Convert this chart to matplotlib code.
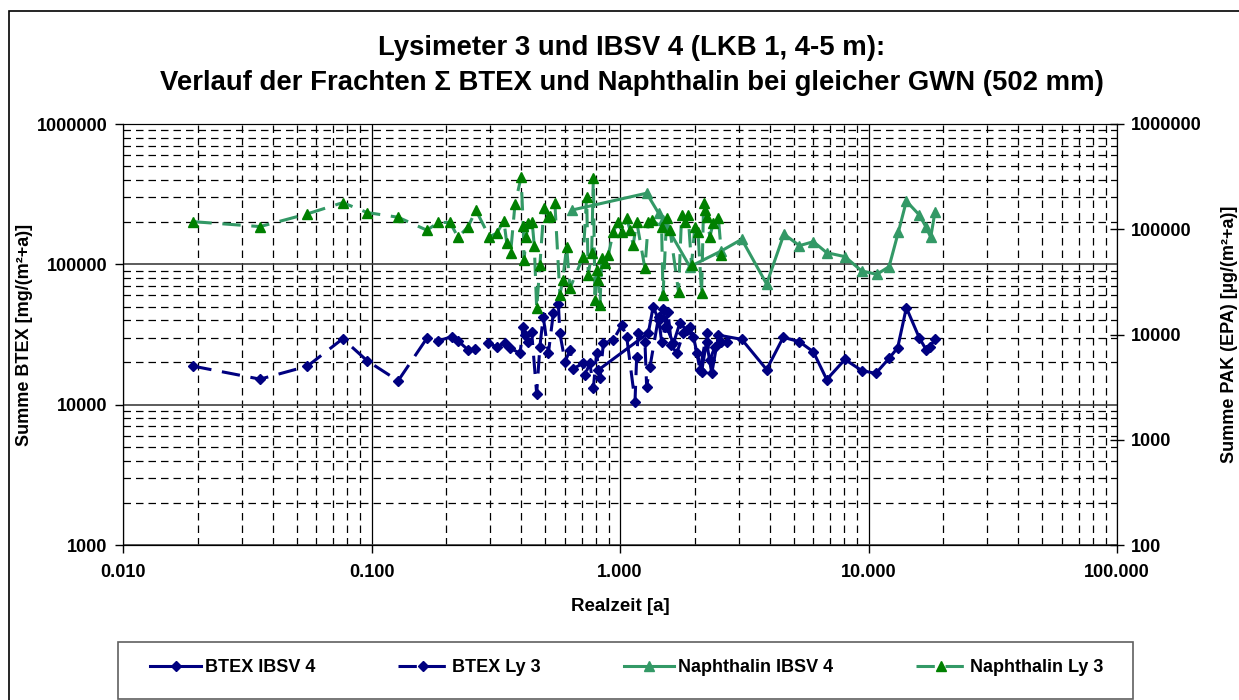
import numpy as np
import matplotlib.pyplot as plt
from matplotlib.patches import Rectangle
from matplotlib.ticker import LogLocator, FixedLocator, FixedFormatter, NullFormatter

plt.rcParams['font.family'] = ['Liberation Sans', 'DejaVu Sans']
plt.rcParams['font.weight'] = 'bold'

# BTEX Ly 3 (mg/(m²·a)), Realzeit [a]
btex_ly3_t = [0.0192, 0.0356, 0.0552, 0.0766, 0.0962, 0.128, 0.167, 0.186, 0.210, 0.223,
              0.245, 0.261, 0.295, 0.319, 0.344, 0.360, 0.396, 0.408, 0.415, 0.428,
              0.441, 0.462, 0.476, 0.491, 0.515, 0.539, 0.565, 0.573, 0.601, 0.629,
              0.649, 0.711, 0.722, 0.757, 0.781, 0.805, 0.831, 0.857, 0.94, 1.016,
              1.064, 1.149, 1.167, 1.185, 1.26, 1.28, 1.32, 1.43, 1.47, 1.52,
              1.56, 1.61, 1.69, 1.80, 1.91, 2.04, 2.10, 2.23, 2.30, 2.41, 2.56, 2.69]
btex_ly3 = [18800, 15200, 18800, 29500, 20500, 14800, 29700, 28500, 30500, 28500,
            24500, 24800, 27300, 25900, 27300, 25400, 23200, 35900, 31300, 28100,
            33100, 12000, 25900, 42300, 23200, 44700, 52000, 32200, 20200, 24500,
            18100, 19700, 16300, 19700, 13100, 23200, 15400, 27300, 28900, 36900,
            30500, 10500, 21900, 32200, 28100, 13400, 18600, 42300, 28100, 35900,
            46000, 26600, 23200, 32200, 35900, 23200, 17600, 32200, 20800, 25900, 28100, 28100]

# BTEX IBSV 4
btex_ibsv_t = [0.816, 1.30, 1.36, 1.43, 1.49, 1.54, 1.64, 1.74, 1.86, 1.97,
               2.13, 2.23, 2.34, 2.49, 3.09, 3.89, 4.54, 5.27, 6.0, 6.79,
               8.04, 9.39, 10.7, 12.1, 13.1, 14.2, 16.0, 17.1, 17.7, 18.5]
btex_ibsv = [17600, 32400, 49900, 40100, 48000, 35900, 27300, 38000, 34000, 30500,
             17200, 28100, 16700, 31300, 29200, 17800, 30200, 28100, 23800, 15100,
             21000, 17500, 16700, 21400, 25400, 49100, 30000, 24500, 25900, 29300]

# Naphthalin Ly 3 (µg/(m²·a))
naph_ly3_t = [0.0192, 0.0356, 0.0552, 0.0766, 0.0962, 0.128, 0.167, 0.186, 0.207, 0.223,
              0.245, 0.263, 0.298, 0.319, 0.341, 0.350, 0.363, 0.378, 0.400, 0.408,
              0.411, 0.419, 0.428, 0.443, 0.452, 0.462, 0.476, 0.494, 0.515, 0.523,
              0.547, 0.573, 0.588, 0.610, 0.629, 0.711, 0.734, 0.745, 0.769, 0.781,
              0.793, 0.805, 0.818, 0.831, 0.844, 0.870, 0.897, 0.94, 0.984, 1.016,
              1.064, 1.097, 1.13, 1.167, 1.26, 1.30, 1.34, 1.47, 1.49, 1.54,
              1.59, 1.72, 1.77, 1.83, 1.88, 1.94, 2.00, 2.06, 2.13, 2.17,
              2.20, 2.23, 2.30, 2.37, 2.49, 2.56]
naph_ly3 = [118000, 106000, 140000, 179000, 144000, 130000, 98000, 116000, 116000, 83900,
            106000, 152000, 85000, 91500, 120000, 74500, 59900, 174000, 312000, 107000,
            51000, 85000, 114000, 118000, 69300, 17700, 45700, 158000, 132000, 135000,
            176000, 23700, 33000, 68300, 27500, 54900, 204000, 36800, 59100, 305000,
            21300, 41000, 33000, 19100, 52900, 47500, 56900, 94800, 118000, 94800,
            127000, 98000, 70800, 118000, 42500, 118000, 122000, 106000, 23700, 127000,
            98000, 25500, 137000, 118000, 137000, 45700, 106000, 94800, 24600, 176000,
            152000, 132000, 85000, 114000, 127000, 56900]

# Naphthalin IBSV 4
naph_ibsv_t = [0.639, 1.28, 1.43, 1.49, 1.91, 2.55, 3.09, 3.89, 4.57, 5.27,
               6.0, 6.79, 8.04, 9.39, 10.8, 12.1, 13.2, 14.2, 16.0, 17.0, 17.8, 18.5]
naph_ibsv = [152000, 220000, 142000, 122000, 44100, 62000, 80300, 30200, 90100, 69800,
             76200, 59900, 54900, 40100, 37300, 44100, 94800, 185000, 137000, 106000, 83900, 145000]

x_ticks = [0.01, 0.1, 1, 10, 100]
x_labels = ['0.010', '0.100', '1.000', '10.000', '100.000']
yl_ticks = [1000, 10000, 100000, 1000000]
yr_ticks = [100, 1000, 10000, 100000, 1000000]

NAVY = '#000080'
SEA = '#339966'
GREEN = '#008000'

fig = plt.figure(figsize=(12.39, 7.0), dpi=100)
W, H = 1239, 700
ax = fig.add_axes([123 / W, 1 - 545 / H, (1117 - 123) / W, (545 - 124) / H])
ax2 = ax.twinx()

ax.set_xscale('log')
ax.set_yscale('log')
ax2.set_yscale('log')
ax.set_xlim(0.01, 100)
ax.set_ylim(1000, 1e6)
ax2.set_ylim(100, 1e6)

# grid: solid at decades, dashed at 2..9
ax.xaxis.set_minor_locator(LogLocator(base=10, subs=np.arange(2, 10)))
ax.yaxis.set_minor_locator(LogLocator(base=10, subs=np.arange(2, 10)))
ax.xaxis.set_minor_formatter(NullFormatter())
ax.yaxis.set_minor_formatter(NullFormatter())
ax.grid(True, which='major', axis='x', color='black', lw=0.9, ls='-')
ax.grid(True, which='major', axis='y', color='#404040', lw=1.2, ls='-')
ax.grid(True, which='minor', color='black', lw=0.9, ls=(0, (6, 4)))
ax.set_axisbelow(True)

ax.xaxis.set_major_locator(FixedLocator(x_ticks))
ax.xaxis.set_major_formatter(FixedFormatter(x_labels))
ax.yaxis.set_major_locator(FixedLocator(yl_ticks))
ax.yaxis.set_major_formatter(FixedFormatter([str(v) for v in yl_ticks]))
ax2.yaxis.set_major_locator(FixedLocator(yr_ticks))
ax2.yaxis.set_major_formatter(FixedFormatter([str(v) for v in yr_ticks]))
ax2.yaxis.set_minor_locator(FixedLocator([]))

ax.tick_params(which='minor', length=0)
ax.tick_params(which='major', direction='out', length=6, width=1, labelsize=13, pad=5)
ax.tick_params(axis='x', which='major', pad=8)
ax2.tick_params(which='major', direction='inout', length=10, width=1, labelsize=13, pad=5)
for s in ax.spines.values():
    s.set_color('black')
ax.spines['top'].set_color('#404040')

# series
ax.plot(btex_ibsv_t, btex_ibsv, color=NAVY, lw=2.2, marker='D', ms=5,
        mfc=NAVY, mec=NAVY, label='BTEX IBSV 4', zorder=3)
ax.plot(btex_ly3_t, btex_ly3, color=NAVY, lw=2.2, ls=(0, (6, 3.5)), marker='D', ms=5,
        mfc=NAVY, mec=NAVY, label='BTEX Ly 3', zorder=3)
ax2.plot(naph_ibsv_t, naph_ibsv, color=SEA, lw=2.2, marker='^', ms=7,
         mfc=SEA, mec=SEA, label='Naphthalin IBSV 4', zorder=3)
ax2.plot(naph_ly3_t, naph_ly3, color=SEA, lw=2.2, ls=(0, (6, 3.5)), marker='^', ms=7,
         mfc=GREEN, mec=GREEN, label='Naphthalin Ly 3', zorder=3)

ax.set_xlabel('Realzeit [a]', fontsize=13.5, fontweight='bold', labelpad=12)
ax.set_ylabel('Summe BTEX [mg/(m²+a)]', fontsize=13, fontweight='bold')
ax.yaxis.set_label_coords((33 - 123) / 994, 0.5)
ax2.set_ylabel('Summe PAK (EPA) [µg/(m²+a)]', fontsize=13, fontweight='bold')
ax2.yaxis.set_label_coords((1221 - 123) / 994, 0.5)

fig.text(632 / W, 1 - 48 / H, 'Lysimeter 3 und IBSV 4 (LKB 1, 4-5 m):', ha='center', va='center',
         fontsize=19.8, fontweight='bold')
fig.text(632 / W, 1 - 83 / H, 'Verlauf der Frachten \u03a3 BTEX und Naphthalin bei gleicher GWN (502 mm)',
         ha='center', va='center', fontsize=19.8, fontweight='bold')

# legend box
fig.patches.append(Rectangle((118 / W, 1 - 699 / H), (1133 - 118) / W, (699 - 642) / H,
                             transform=fig.transFigure, fill=False, ec='#606060', lw=1.2))
# chart border
fig.patches.append(Rectangle((9 / W, -0.05), 1.2, 1.05 - 11 / H,
                             transform=fig.transFigure, fill=False, ec='black', lw=1.2))

h1, l1 = ax.get_legend_handles_labels()
h2, l2 = ax2.get_legend_handles_labels()
fig.legend(h1 + h2, l1 + l2, loc='center', ncol=4, frameon=False,
           bbox_to_anchor=(627 / W, 1 - 668 / H),
           prop={'weight': 'bold', 'size': 13}, handlelength=2.8, handletextpad=0.2,
           columnspacing=4.6)

fig.savefig('out.png', dpi=100)
